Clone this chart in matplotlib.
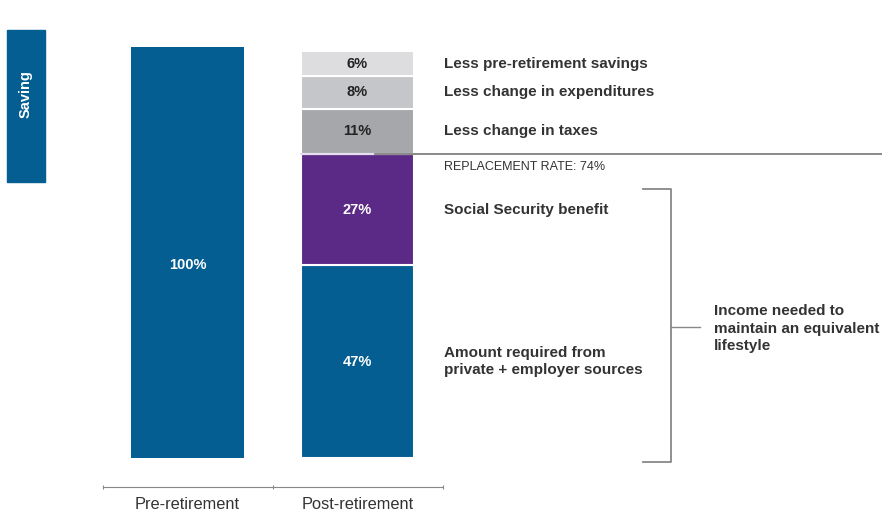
import matplotlib.pyplot as plt
from matplotlib.patches import Rectangle

plt.rcParams['font.family'] = ['Liberation Sans', 'DejaVu Sans']

# ---------------- data ----------------
categories = ['Pre-retirement', 'Post-retirement']
pre_value = 100
post_values = [47, 27, 11, 8, 6]
post_labels = ['47%', '27%', '11%', '8%', '6%']
post_colors = ['#045E92', '#5A2A86', '#A5A7AA', '#C4C6C9', '#DDDDE0']
post_text_colors = ['white', 'white', '#222222', '#222222', '#222222']
side_labels = ['Amount required from\nprivate + employer sources',
               'Social Security benefit',
               'Less change in taxes',
               'Less change in expenditures',
               'Less pre-retirement savings']
replacement_rate = 74
bracket_text = 'Income needed to\nmaintain an equivalent\nlifestyle'

BLUE = '#045E92'
TXT = '#333333'

fig = plt.figure(figsize=(8.82, 5.12), dpi=100)
# axes spans from the left end of the x-axis to the right edge of the figure
ax = fig.add_axes([102.5 / 882, 25 / 512, 1 - 102.5 / 882, 1 - 25 / 512])
ax.set_xlim(-0.5, -0.5 + (882 - 102.5) / 170)
ax.set_ylim(-7.05, 111.5)

width = 0.665
ax.bar(0, pre_value, width=width, color=BLUE, linewidth=0)
ax.text(0, pre_value / 2 - 3, f'{pre_value}%', color='white', ha='center', va='center',
        fontsize=10.5, fontweight='bold')

bottom = 0
for v, lab, c, tc, side in zip(post_values, post_labels, post_colors, post_text_colors, side_labels):
    ax.bar(1, v, bottom=bottom, width=width, color=c, edgecolor='white', linewidth=1.5)
    mid = bottom + v / 2
    ax.text(1, mid, lab, color=tc, ha='center', va='center', fontsize=10.5, fontweight='bold')
    ax.text(1.51, mid, side, color=TXT, ha='left', va='center', fontsize=11,
            fontweight='bold', linespacing=1.35)
    bottom += v

# replacement rate line
ax.plot([1 - width / 2, 1.1], [replacement_rate, replacement_rate], color='#E6DDF0', lw=1.5)
ax.plot([1.1, ax.get_xlim()[1]], [replacement_rate, replacement_rate], color='#777777', lw=1.2)
ax.text(1.51, replacement_rate - 1.8, f'REPLACEMENT RATE: {replacement_rate}%', color=TXT,
        ha='left', va='top', fontsize=9)

# bracket
bx, btop, bbot, bmid = 2.844, 65.5, -1.0, 32.0
ax.plot([2.68, bx, bx, 2.68], [btop, btop, bbot, bbot], color='#888888', lw=1.3)
ax.plot([bx, 3.015], [bmid, bmid], color='#888888', lw=1.0)
ax.text(3.095, bmid - 0.5, bracket_text, color=TXT, ha='left', va='center', fontsize=11,
        fontweight='bold', linespacing=1.3)

# axes styling
for s in ['top', 'right', 'left']:
    ax.spines[s].set_visible(False)
ax.spines['bottom'].set_bounds(-0.5, 1.5)
ax.spines['bottom'].set_color('#888888')
ax.set_yticks([])
ax.set_xticks([-0.5, 0.5, 1.5])
ax.set_xticklabels([])
ax.set_xticks([0, 1], minor=True)
ax.set_xticklabels(categories, minor=True, fontsize=11.8, color=TXT)
ax.tick_params(axis='x', which='major', length=3, color='#888888', direction='inout')
ax.tick_params(axis='x', which='minor', length=0, pad=7)

# "Saving" side tab
fig.patches.append(Rectangle((7 / 882, 330 / 512), 38 / 882, 152 / 512,
                             transform=fig.transFigure, color=BLUE))
fig.text(26 / 882, 418 / 512, 'Saving', rotation=90, color='white', ha='center',
         va='center', fontsize=10.5, fontweight='bold')

fig.savefig('out.png', dpi=100)
